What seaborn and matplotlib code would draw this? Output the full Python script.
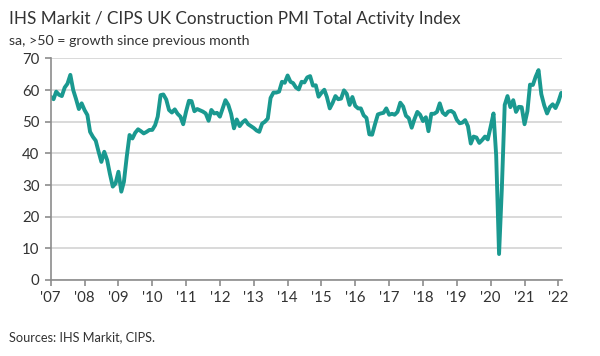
import pandas as pd
import matplotlib.pyplot as plt
import seaborn as sns

# Monthly index values, Jan 2007 - Feb 2022
pmi_2007 = [57.9, 57.1, 59.5, 58.5, 58.1, 60.8, 62.0, 64.8, 60.0, 57.2, 54.0, 55.8]
pmi_2008 = [53.7, 52.1, 46.8, 45.2, 44.0, 40.5, 37.3, 40.5, 37.9, 33.5, 29.5, 30.5]
pmi_2009 = [34.2, 27.9, 31.0, 39.0, 45.8, 44.7, 46.5, 47.6, 47.0, 46.3, 46.8, 47.4]
pmi_2010 = [47.4, 48.9, 51.6, 58.4, 58.6, 57.0, 53.7, 52.9, 53.9, 52.5, 51.6, 49.2]
pmi_2011 = [53.2, 56.6, 56.5, 53.3, 54.0, 53.6, 53.2, 52.6, 50.3, 53.7, 52.6, 52.8]
pmi_2012 = [51.6, 54.3, 56.8, 55.3, 52.5, 47.9, 50.7, 48.6, 49.8, 50.5, 49.2, 48.6]
pmi_2013 = [48.0, 47.2, 46.8, 49.4, 50.0, 51.0, 57.5, 59.2, 59.2, 59.5, 62.6, 62.3]
pmi_2014 = [64.6, 62.6, 62.2, 60.8, 60.2, 62.6, 62.4, 64.0, 64.4, 61.4, 61.5, 57.9]
pmi_2015 = [59.1, 60.1, 57.8, 54.2, 55.9, 58.1, 57.1, 57.3, 59.9, 58.8, 55.3, 57.8]
pmi_2016 = [55.0, 54.2, 54.2, 52.0, 51.2, 46.0, 45.9, 49.2, 52.3, 52.6, 52.8, 54.2]
pmi_2017 = [52.2, 52.5, 52.2, 53.1, 56.0, 54.8, 51.9, 51.1, 48.1, 50.8, 53.1, 52.2]
pmi_2018 = [50.2, 51.4, 47.0, 52.5, 52.5, 53.1, 55.8, 52.9, 52.1, 53.2, 53.4, 52.8]
pmi_2019 = [50.6, 49.5, 49.7, 50.5, 48.6, 43.1, 45.3, 45.0, 43.3, 44.2, 45.3, 44.4]
pmi_2020 = [48.4, 52.6, 39.3, 8.2, 28.9, 55.3, 58.1, 54.6, 56.8, 53.1, 54.7, 54.6]
pmi_2021 = [49.2, 53.3, 61.7, 61.6, 64.2, 66.3, 58.7, 55.2, 52.6, 54.6, 55.5, 54.3]
pmi_2022 = [56.3, 59.1]

values = (pmi_2007 + pmi_2008 + pmi_2009 + pmi_2010 + pmi_2011 + pmi_2012 +
          pmi_2013 + pmi_2014 + pmi_2015 + pmi_2016 + pmi_2017 + pmi_2018 +
          pmi_2019 + pmi_2020 + pmi_2021 + pmi_2022)
months = pd.date_range('2007-01-01', periods=len(values), freq='MS')
df = pd.DataFrame({'month': months, 'pmi': values})

year_ticks = pd.date_range('2007-01-01', '2022-01-01', freq='YS')
year_labels = ["'" + d.strftime('%y') for d in year_ticks]
y_ticks = [0, 10, 20, 30, 40, 50, 60, 70]

sns.set_theme(style='white')
plt.rcParams['font.family'] = ['Lato', 'DejaVu Sans']

fig = plt.figure(figsize=(6, 3.56), dpi=100)
ax = fig.add_axes([0.0845, 0.2135, 0.8515, 0.6225])

sns.lineplot(data=df, x='month', y='pmi', ax=ax, color='#1a9990', linewidth=2.8)

ax.set_ylim(0, 70)
ax.set_xlim(pd.Timestamp('2007-01-01'), pd.Timestamp('2022-02-05'))
ax.set_yticks(y_ticks)
ax.set_xticks(year_ticks)
ax.set_xticklabels(year_labels)
ax.set_xlabel('')
ax.set_ylabel('')

ax.grid(axis='y', color='#d9d9d9', linewidth=1.4)
ax.grid(axis='x', visible=False)
ax.set_axisbelow(True)

for side in ['top', 'right']:
    ax.spines[side].set_visible(False)
for side in ['left', 'bottom']:
    ax.spines[side].set_color('#8c8c8c')
    ax.spines[side].set_linewidth(1.2)

ax.tick_params(axis='both', which='major', length=4, width=1.2, color='#8c8c8c',
               labelsize=10.8, labelcolor='#333333', pad=4)
ax.tick_params(axis='y', left=True)
ax.tick_params(axis='x', bottom=True)

fig.text(0.015, 0.948, 'IHS Markit / CIPS UK Construction PMI Total Activity Index',
         fontsize=12.3, color='#333333', va='center', ha='left')
fig.text(0.015, 0.884, 'sa, >50 = growth since previous month',
         fontsize=10.2, color='#333333', va='center', ha='left')
fig.text(0.015, 0.052, 'Sources: IHS Markit, CIPS.',
         fontsize=9.2, color='#333333', va='center', ha='left')

plt.savefig('out.png', dpi=100)
